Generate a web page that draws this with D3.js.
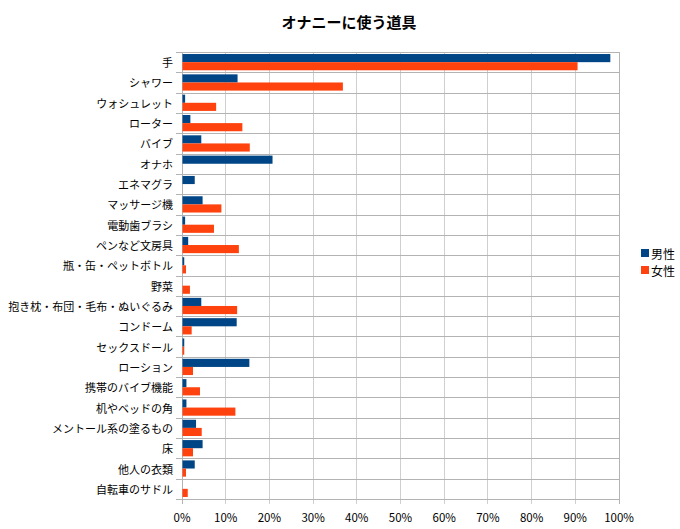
<!DOCTYPE html>
<html><head><meta charset="utf-8">
<script src="https://cdn.jsdelivr.net/npm/d3@7"></script>
<style>body{margin:0;background:#fff}svg{display:block}</style>
</head><body>
<script>
const title = "オナニーに使う道具";
const categories = ["手","シャワー","ウォシュレット","ローター","バイブ","オナホ","エネマグラ","マッサージ機","電動歯ブラシ","ペンなど文房具","瓶・缶・ペットボトル","野菜","抱き枕・布団・毛布・ぬいぐるみ","コンドーム","セックスドール","ローション","携帯のバイブ機能","机やベッドの角","メントール系の塗るもの","床","他人の衣類","自転車のサドル"];
const seriesNames = ["男性","女性"];
const male   = [97.9,12.6,0.6,1.8,4.3,20.6,2.8,4.6,0.6,1.3,0.4,0,4.3,12.4,0.4,15.3,0.9,0.9,3.1,4.6,2.8,0];
const female = [90.4,36.7,7.7,13.7,15.4,0,0,8.9,7.2,12.9,0.8,1.7,12.5,2.1,0.4,2.4,4.0,12.1,4.4,2.4,0.8,1.2];
const xTicks = [0,10,20,30,40,50,60,70,80,90,100];
const colors = ["#004586","#ff420e"];

const W = 680, H = 529;
const m = {left:182, right:61, top:52, bottom:30};
const font = "'Noto Sans CJK JP','Noto Sans',sans-serif";
const svg = d3.select("body").append("svg").attr("width",W).attr("height",H)
  .style("font-family", font);

const x = d3.scaleLinear().domain([0,100]).range([m.left, W-m.right]);
const y = d3.scaleBand().domain(categories).range([m.top, H-m.bottom]);
const inner = d3.scaleBand().domain(seriesNames).range([0, y.bandwidth()]).paddingOuter(0.25).paddingInner(0);

// vertical grid + ticks
svg.append("g").selectAll("line").data(xTicks).join("line")
  .attr("x1",d=>x(d)).attr("x2",d=>x(d))
  .attr("y1",m.top).attr("y2",H-m.bottom+5)
  .attr("stroke",d=> (d===0||d===100)?"#b3b3b3":"#cfcfcf").attr("stroke-width",1)
  .attr("shape-rendering","crispEdges");

// horizontal grid at category boundaries
const bounds = categories.map(c=>y(c)).concat([H-m.bottom]);
svg.append("g").selectAll("line").data(bounds).join("line")
  .attr("x1",m.left-6).attr("x2",x(100))
  .attr("y1",d=>Math.round(d)+0.5).attr("y2",d=>Math.round(d)+0.5)
  .attr("stroke","#b3b3b3").attr("stroke-width",1);

// bars
const data = [male,female];
seriesNames.forEach((s,si)=>{
  svg.append("g").selectAll("rect").data(categories).join("rect")
    .attr("x",x(0)+0.5)
    .attr("y",c=>y(c)+inner(s))
    .attr("width",(c,i)=>Math.max(0,x(data[si][i])-x(0)))
    .attr("height",inner.bandwidth())
    .attr("fill",colors[si]);
});

// category labels
svg.append("g").selectAll("text").data(categories).join("text")
  .attr("x",m.left-9).attr("y",c=>y(c)+y.bandwidth()/2)
  .attr("text-anchor","end").attr("dominant-baseline","central")
  .attr("font-size",11).attr("fill","#000").text(c=>c);

// x tick labels
svg.append("g").selectAll("text").data(xTicks).join("text")
  .attr("x",d=>x(d)).attr("y",H-m.bottom+18)
  .attr("text-anchor","middle").attr("dominant-baseline","central")
  .attr("font-size",11.5).attr("fill","#000").text(d=>d+"%");

// title
svg.append("text").attr("x",349).attr("y",21).attr("text-anchor","middle")
  .attr("dominant-baseline","central").attr("font-size",15).attr("font-weight","bold")
  .text(title);

// legend
const lg = svg.append("g");
seriesNames.forEach((s,i)=>{
  lg.append("rect").attr("x",641).attr("y",249+i*17).attr("width",8).attr("height",8).attr("fill",colors[i]);
  lg.append("text").attr("x",651).attr("y",253+i*17).attr("dominant-baseline","central")
    .attr("font-size",12).text(s);
});
</script>
</body></html>
